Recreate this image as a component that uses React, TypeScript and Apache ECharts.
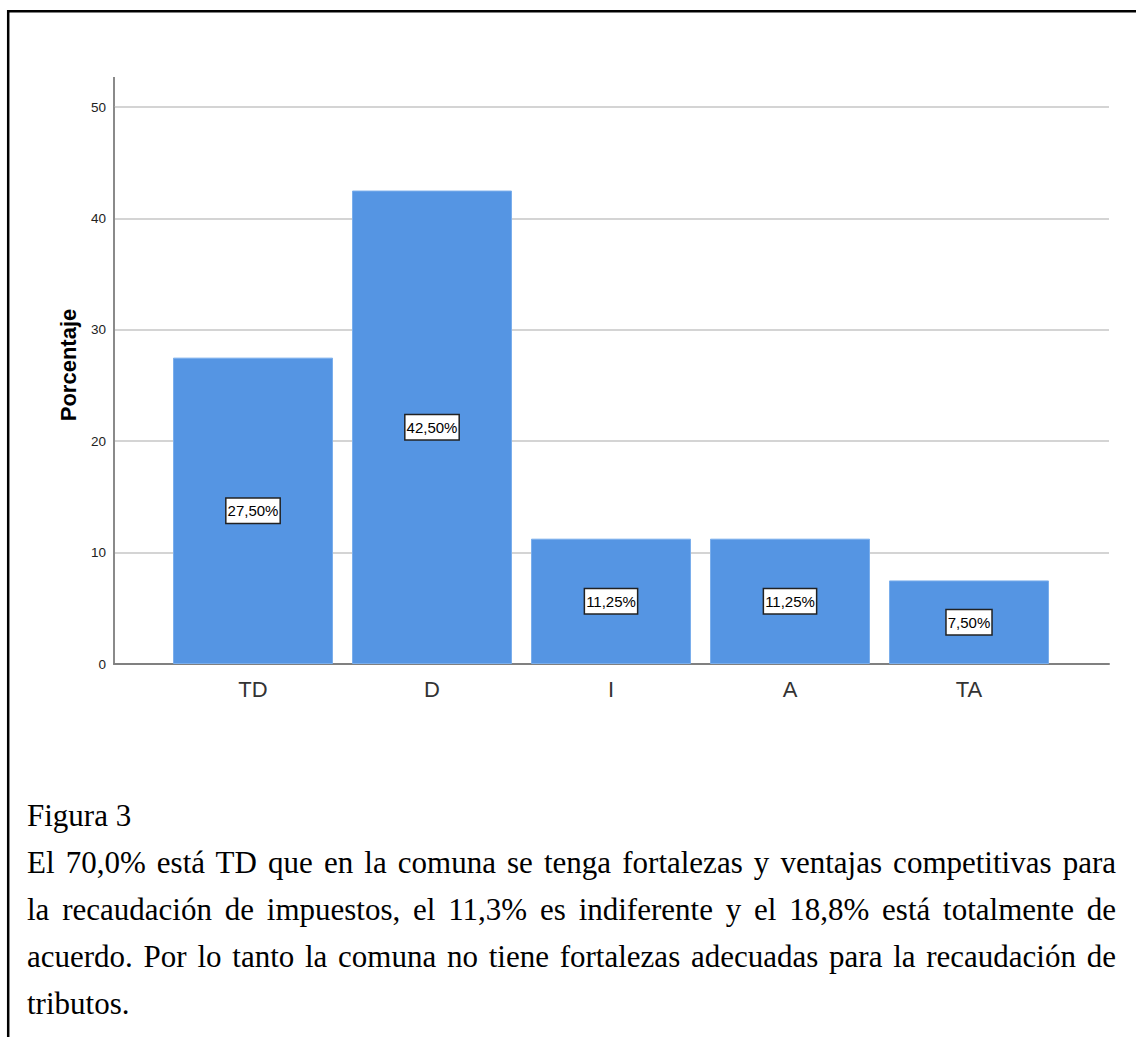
import React, { useEffect, useRef } from "react";
import * as echarts from "echarts";

const categories = ["TD", "D", "I", "A", "TA"];
const percentages = [27.5, 42.5, 11.25, 11.25, 7.5];
const yTicks = [0, 10, 20, 30, 40, 50];
const yAxisName = "Porcentaje";
const captionTitle = "Figura 3";
const captionLines = [
  "El 70,0% está TD que en la comuna se tenga fortalezas y ventajas competitivas para",
  "la recaudación de impuestos, el 11,3% es indiferente y el 18,8% está totalmente de",
  "acuerdo. Por lo tanto la comuna no tiene fortalezas adecuadas para la recaudación de",
];
const captionLast = "tributos.";

const SANS = "'Liberation Sans', Arial, sans-serif";

export default function App() {
  const ref = useRef<HTMLDivElement>(null);

  useEffect(() => {
    if (!ref.current) return;
    const chart = echarts.init(ref.current, undefined, { renderer: "svg" });
    const yMax = yTicks[yTicks.length - 1];
    chart.setOption({
      animation: false,
      backgroundColor: "#ffffff",
      grid: [
        { left: 114, right: 27, top: 107, bottom: 373 },
        { left: 163.5, right: 77.5, top: 107, bottom: 373 },
      ],
      xAxis: [
        {
          gridIndex: 0,
          type: "value",
          min: 0,
          max: 1,
          axisLine: { show: true, lineStyle: { color: "#808080", width: 2 } },
          axisTick: { show: false },
          axisLabel: { show: false },
          splitLine: { show: false },
        },
        {
          gridIndex: 1,
          type: "category",
          data: categories,
          axisLine: { show: false },
          axisTick: { show: false },
          axisLabel: {
            fontFamily: SANS,
            fontSize: 22,
            color: "#333333",
            margin: 14,
          },
        },
      ],
      yAxis: [
        {
          gridIndex: 0,
          type: "value",
          min: 0,
          max: yMax,
          interval: 10,
          axisLine: { show: true, lineStyle: { color: "#8a8a8a", width: 2 } },
          axisTick: { show: false },
          axisLabel: {
            fontFamily: SANS,
            fontSize: 13.5,
            color: "#222222",
            margin: 8,
          },
          splitLine: { show: true, lineStyle: { color: "#d4d4d4", width: 2 } },
        },
        {
          gridIndex: 1,
          type: "value",
          min: 0,
          max: yMax,
          interval: 10,
          show: false,
        },
      ],
      series: [
        {
          type: "bar",
          xAxisIndex: 1,
          yAxisIndex: 1,
          data: percentages,
          barWidth: 160,
          itemStyle: { color: "#5595e3", borderColor: "#7aaeec", borderWidth: 1 },
          label: {
            show: true,
            position: "inside",
            formatter: (p: any) => p.value.toFixed(2).replace(".", ",") + "%",
            fontFamily: SANS,
            fontSize: 15,
            color: "#000000",
            backgroundColor: "#ffffff",
            borderColor: "#222222",
            borderWidth: 1.5,
            padding: [5, 1, 4, 1],
          },
        },
      ],
      graphic: [
        {
          type: "line",
          shape: { x1: 114, y1: 77, x2: 114, y2: 108 },
          style: { stroke: "#8a8a8a", lineWidth: 2 },
        },
        {
          type: "text",
          x: 68,
          y: 365,
          rotation: Math.PI / 2,
          style: {
            text: yAxisName,
            font: "bold 22px 'Liberation Sans', Arial, sans-serif",
            fill: "#000000",
            align: "center",
            verticalAlign: "middle",
          },
        },
        {
          type: "line",
          shape: { x1: 7, y1: 11.2, x2: 1136, y2: 11.2 },
          style: { stroke: "#000000", lineWidth: 2.5 },
        },
        {
          type: "line",
          shape: { x1: 8.2, y1: 10, x2: 8.2, y2: 1037 },
          style: { stroke: "#000000", lineWidth: 2.5 },
        },
      ],
    });
    return () => chart.dispose();
  }, []);

  const LH = "47px";
  const justified: React.CSSProperties = {
    textAlign: "justify",
    textAlignLast: "justify",
    height: LH,
  };

  return (
    <div style={{ position: "absolute", left: 0, top: 0, width: 1136, height: 1037, overflow: "hidden", background: "#fff" }}>
      <div ref={ref} style={{ position: "absolute", left: 0, top: 0, width: 1136, height: 1037 }} />
      <div
        style={{
          position: "absolute",
          left: 27,
          top: 792,
          width: 1089,
          fontFamily: "'Liberation Serif', 'Times New Roman', serif",
          fontSize: 31,
          lineHeight: LH,
          color: "#000",
          whiteSpace: "nowrap",
        }}
      >
        <div style={{ height: LH }}>{captionTitle}</div>
        {captionLines.map((l, i) => (
          <div key={i} style={justified}>{l}</div>
        ))}
        <div style={{ height: LH }}>{captionLast}</div>
      </div>
    </div>
  );
}
